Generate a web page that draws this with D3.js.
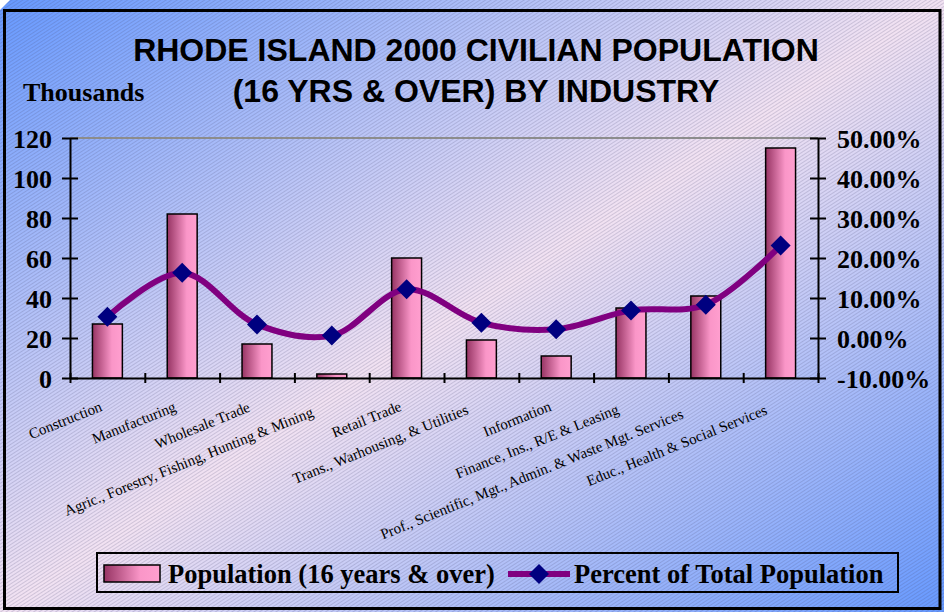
<!DOCTYPE html>
<html lang='en'>
	<head>
		<meta charset='utf-8'>
		<title>Rhode Island 2000 by industry</title>
		<script src="https://d3js.org/d3.v7.min.js"></script>
		<style type="text/css">
			body { margin: 0; background: #fff; }
			svg { display: block; }
		</style>
	</head>
	<body>
		<script type='text/javascript'>
			//Data
			var categories = ["Construction", "Manufacturing", "Wholesale Trade",
				"Agric., Forestry, Fishing, Hunting & Mining", "Retail Trade",
				"Trans., Warhousing, & Utilities", "Information",
				"Finance, Ins., R/E & Leasing",
				"Prof., Scientific, Mgt., Admin. & Waste Mgt. Services",
				"Educ., Health & Social Services"];
			var population = [27, 82, 17, 2, 60, 19, 11, 35, 41, 115]; // thousands
			var percent = [0.053, 0.163, 0.034, 0.006, 0.122, 0.038, 0.022, 0.069, 0.083, 0.231];
			var leftTicks = [0, 20, 40, 60, 80, 100, 120];
			var rightTicks = [-0.1, 0, 0.1, 0.2, 0.3, 0.4, 0.5];
			var titleLines = ["RHODE ISLAND 2000 CIVILIAN POPULATION", "(16 YRS & OVER) BY INDUSTRY"];

			//Width and height
			var w = 944;
			var h = 612;
			var plotL = 70, plotR = 818, plotT = 138, plotB = 378;
			var serif = "'Liberation Serif', 'Times New Roman', serif";
			var sans = "'Liberation Sans', Arial, sans-serif";

			//plain hyphen for negatives, like the original
			var pct = d3.formatLocale({decimal: ".", thousands: ",", grouping: [3],
				currency: ["$", ""], minus: "-"}).format(".2%");

			var svg = d3.select("body")
						.append("svg")
						.attr("width", w)
						.attr("height", h);

			var defs = svg.append("defs");

			//background gradient
			var bg = defs.append("linearGradient").attr("id", "bg")
				.attr("x1", 0).attr("y1", 0).attr("x2", 1).attr("y2", 1);
			bg.append("stop").attr("offset", "0%").attr("stop-color", "#6699ff");
			bg.append("stop").attr("offset", "50%").attr("stop-color", "#f2e2f2");
			bg.append("stop").attr("offset", "100%").attr("stop-color", "#6699ff");

			//hatch texture
			var hatch = defs.append("pattern").attr("id", "hatch")
				.attr("patternUnits", "userSpaceOnUse")
				.attr("width", 8).attr("height", 3)
				.attr("patternTransform", "rotate(-33)");
			hatch.append("line")
				.attr("x1", 0).attr("y1", 0.5).attr("x2", 8).attr("y2", 0.5)
				.attr("stroke", "rgba(70,70,110,0.2)")
				.attr("stroke-width", 1);

			//bar gradient
			var bar = defs.append("linearGradient").attr("id", "bar")
				.attr("x1", 0).attr("y1", 0).attr("x2", 1).attr("y2", 0);
			bar.append("stop").attr("offset", "0%").attr("stop-color", "#963463");
			bar.append("stop").attr("offset", "65%").attr("stop-color", "#fa96c8");
			bar.append("stop").attr("offset", "100%").attr("stop-color", "#ff9fcf");

			svg.append("rect").attr("width", w).attr("height", h).attr("fill", "url(#bg)");
			svg.append("rect").attr("width", w).attr("height", h).attr("fill", "url(#hatch)");
			svg.append("path").attr("d", "M0,0H10L0,10Z").attr("fill", "#fff");
			svg.append("rect")
				.attr("x", 4.5).attr("y", 10.5).attr("width", 935.5).attr("height", 598)
				.attr("fill", "none").attr("stroke", "#000").attr("stroke-width", 3);

			//Scales
			var x = d3.scaleBand().domain(categories).range([plotL, plotR])
				.paddingInner(0.6).paddingOuter(0.3);
			var xEdge = d3.scaleLinear().domain([0, categories.length]).range([plotL, plotR]);
			var y = d3.scaleLinear().domain([0, 120]).range([plotB, plotT]);
			var y2 = d3.scaleLinear().domain([-0.1, 0.5]).range([plotB, plotT]);

			//top border of the plot area
			svg.append("line")
				.attr("x1", plotL).attr("x2", plotR).attr("y1", plotT).attr("y2", plotT)
				.attr("stroke", "#8c8c8c").attr("stroke-width", 2);

			//Bars
			svg.selectAll("rect.bar")
				.data(population)
				.enter()
				.append("rect")
				.attr("class", "bar")
				.attr("x", function(d, i) { return x(categories[i]); })
				.attr("y", function(d) { return y(d); })
				.attr("width", x.bandwidth())
				.attr("height", function(d) { return y(0) - y(d); })
				.attr("fill", "url(#bar)")
				.attr("stroke", "#000")
				.attr("stroke-width", 1.5);

			//Axes
			function styleAxis(g) {
				g.select(".domain").attr("stroke", "#000").attr("stroke-width", 2);
				g.selectAll(".tick line").attr("stroke", "#000").attr("stroke-width", 2);
				g.selectAll(".tick text")
					.attr("font-family", serif)
					.attr("font-weight", "bold")
					.attr("font-size", 26)
					.attr("fill", "#000")
					.attr("dy", "0.38em");
			}

			var gl = svg.append("g").attr("transform", "translate(" + plotL + ",0)")
				.call(d3.axisLeft(y).tickValues(leftTicks).tickSizeOuter(0).tickPadding(12));
			styleAxis(gl);
			gl.selectAll(".tick line").attr("x1", -8).attr("x2", 8);

			var gr = svg.append("g").attr("transform", "translate(" + plotR + ",0)")
				.call(d3.axisRight(y2).tickValues(rightTicks).tickFormat(pct)
					.tickSizeOuter(0).tickPadding(13));
			styleAxis(gr);
			gr.selectAll(".tick line").attr("x1", -8).attr("x2", 8);

			var gb = svg.append("g").attr("transform", "translate(0," + plotB + ")")
				.call(d3.axisBottom(xEdge).tickValues(d3.range(categories.length + 1))
					.tickFormat("").tickSizeOuter(0));
			styleAxis(gb);
			gb.selectAll(".tick line").attr("y1", -5).attr("y2", 5);

			//category labels, rotated
			svg.selectAll("text.cat")
				.data(categories)
				.enter()
				.append("text")
				.attr("class", "cat")
				.attr("font-family", serif)
				.attr("font-size", 15)
				.attr("text-anchor", "end")
				.text(function(d) { return d; })
				.each(function(d) {
					var len = this.getComputedTextLength();
					var cx = x(d) + x.bandwidth() / 2 + 1 - 0.069 * len;
					var cy = 408 + 0.03 * len;
					d3.select(this).attr("transform", "translate(" + cx + "," + cy + ") rotate(-22)");
				});

			//Percent line
			var line = d3.line()
				.x(function(d, i) { return x(categories[i]) + x.bandwidth() / 2; })
				.y(function(d) { return y2(d); })
				.curve(d3.curveCatmullRom.alpha(0.5));

			svg.append("path")
				.datum(percent)
				.attr("d", line)
				.attr("fill", "none")
				.attr("stroke", "#800080")
				.attr("stroke-width", 6)
				.attr("stroke-linejoin", "round");

			var diamond = d3.symbol().type(d3.symbolSquare).size(200);
			svg.selectAll("path.pt")
				.data(percent)
				.enter()
				.append("path")
				.attr("class", "pt")
				.attr("d", diamond)
				.attr("transform", function(d, i) {
					return "translate(" + (x(categories[i]) + x.bandwidth() / 2) + "," + y2(d) + ") rotate(45)";
				})
				.attr("fill", "#000080");

			//Titles
			svg.selectAll("text.title")
				.data(titleLines)
				.enter()
				.append("text")
				.attr("class", "title")
				.attr("x", 476)
				.attr("y", function(d, i) { return 61 + i * 41; })
				.attr("text-anchor", "middle")
				.attr("font-family", sans)
				.attr("font-weight", "bold")
				.attr("font-size", 32)
				.text(function(d) { return d; });

			svg.append("text")
				.attr("x", 23).attr("y", 101)
				.attr("font-family", serif)
				.attr("font-weight", "bold")
				.attr("font-size", 26)
				.text("Thousands");

			//Legend
			var lg = svg.append("g");
			lg.append("rect")
				.attr("x", 97).attr("y", 553).attr("width", 801).attr("height", 39)
				.attr("fill", "none").attr("stroke", "#000").attr("stroke-width", 2);
			lg.append("rect")
				.attr("x", 104).attr("y", 565).attr("width", 56).attr("height", 17)
				.attr("fill", "url(#bar)").attr("stroke", "#000").attr("stroke-width", 1.5);
			lg.append("text")
				.attr("x", 168).attr("y", 583)
				.attr("font-family", serif).attr("font-weight", "bold").attr("font-size", 26.5)
				.text("Population (16 years & over)");
			lg.append("line")
				.attr("x1", 508).attr("x2", 570).attr("y1", 574).attr("y2", 574)
				.attr("stroke", "#800080").attr("stroke-width", 6);
			lg.append("path")
				.attr("d", diamond)
				.attr("transform", "translate(539,574) rotate(45)")
				.attr("fill", "#000080");
			lg.append("text")
				.attr("x", 574).attr("y", 583)
				.attr("font-family", serif).attr("font-weight", "bold").attr("font-size", 26.5)
				.text("Percent of Total Population");
		</script>
	</body>
</html>
